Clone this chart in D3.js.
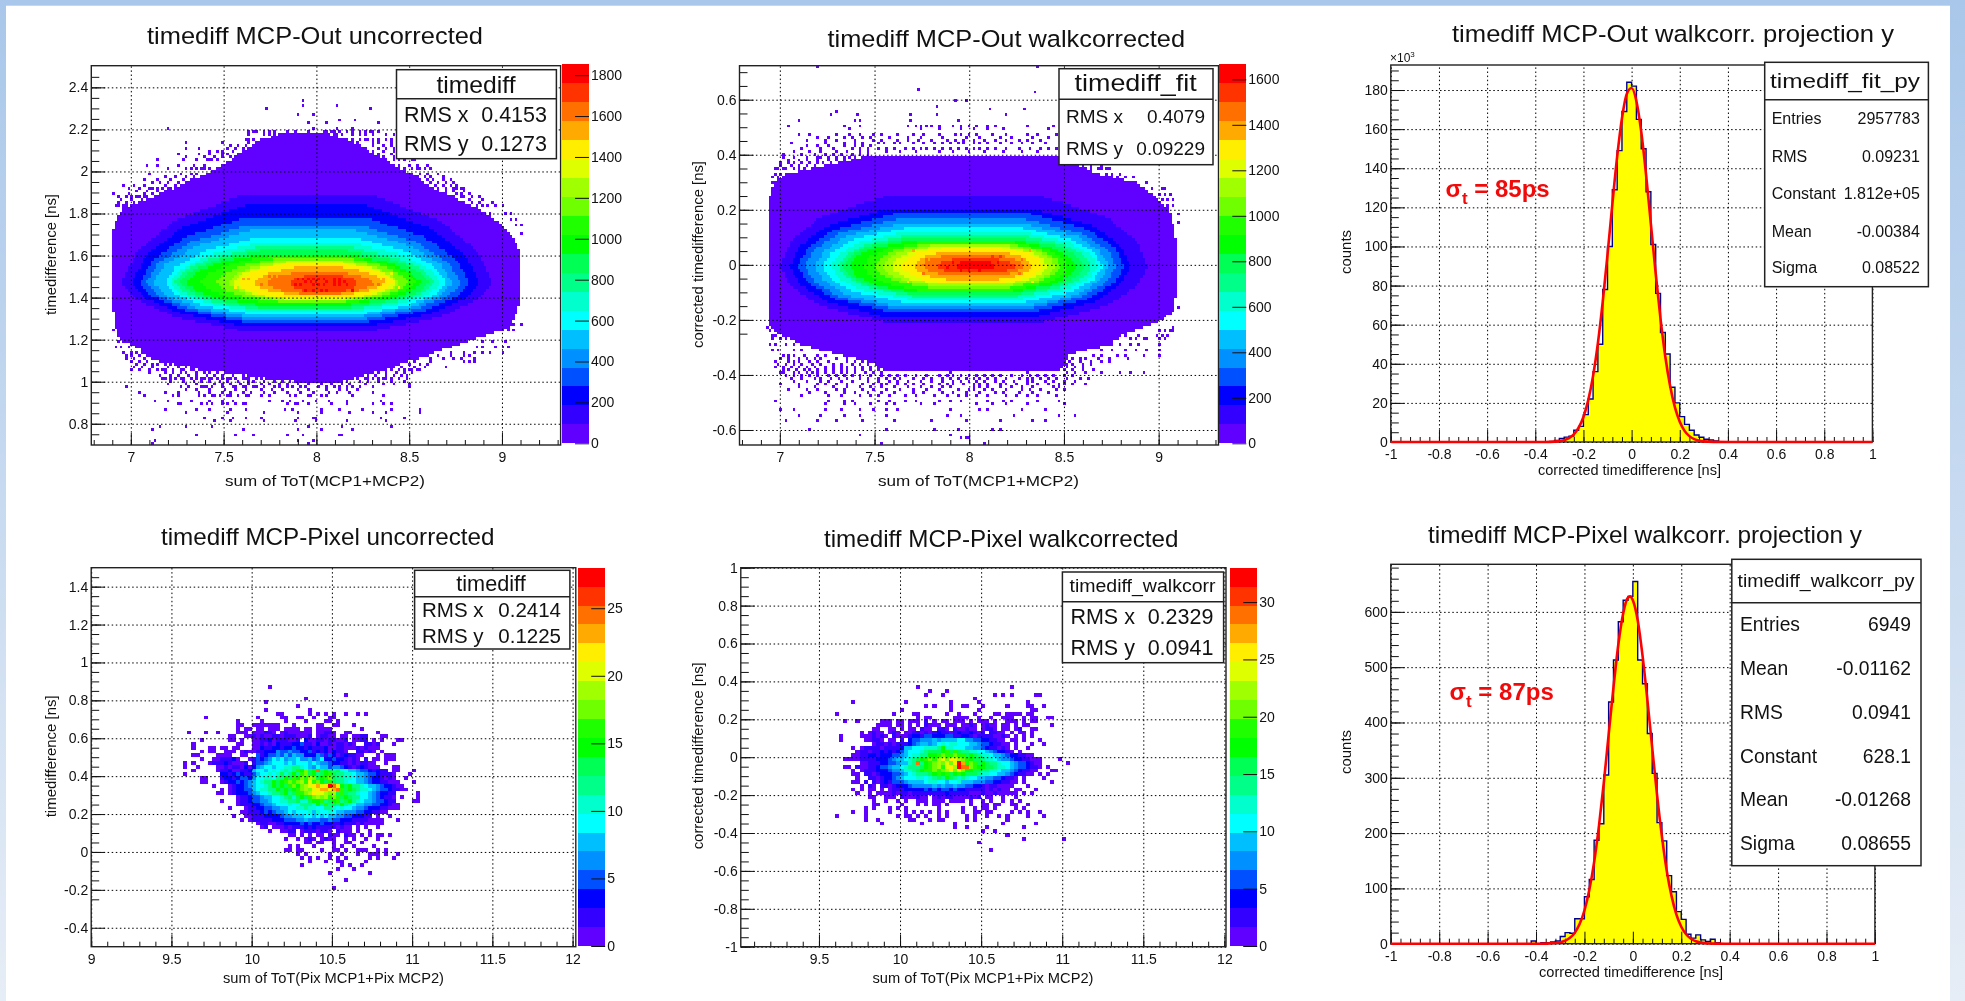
<!DOCTYPE html>
<html>
<head>
<meta charset="utf-8">
<script src="https://cdnjs.cloudflare.com/ajax/libs/d3/7.8.5/d3.min.js"></script>
<style>
html, body { margin: 0; padding: 0; background: #fff; overflow: hidden; }
svg { display: block; filter: blur(0.4px); }
text { font-family: "Liberation Sans", Arial, sans-serif; fill: #111; }
</style>
</head>
<body>
<script>
// colour bands of the palette, bottom to top
var bandColors = ["#6000ff","#3300ff","#0000ff","#0050ff","#0090ff","#00bfff","#00ffff","#00ffcc","#00ff88","#00ff55",
    "#00ff00","#20ff00","#70ff00","#a0ff00","#ddff00","#ffee00","#ffaa00","#ff7000","#ff3300","#ff0000"];

// ---- top left: outer edge as [y, xLeft, xRight]
var p1Edge = [[2.18,7.8,8.05],[2.14,7.68,8.2],[2.05,7.53,8.38],[1.97,7.36,8.54],[1.9,7.18,8.68],[1.83,6.96,8.86],[1.75,6.91,9.0],[1.68,6.9,9.07],[1.6,6.9,9.1],
    [1.4,6.9,9.1],[1.3,6.91,9.07],[1.25,6.92,9.03],[1.2,6.95,8.84],[1.15,7.05,8.68],[1.1,7.14,8.5],[1.05,7.43,8.34],[1.0,7.91,8.14]];
// contour of each colour band, band 1 upwards
var p1Levels = [
    [[1.89,7.6,8.3],[1.764,7.23,8.67],[1.617,7.03,8.87],[1.47,6.95,8.95],[1.39,7.03,8.87],[1.309,7.23,8.67],[1.24,7.6,8.3]],
    [[1.84,7.61,8.27],[1.729,7.27,8.62],[1.6,7.08,8.805],[1.47,7.004,8.88],[1.397,7.08,8.805],[1.324,7.27,8.62],[1.262,7.61,8.27]],
    [[1.785,7.63,8.25],[1.69,7.3,8.58],[1.58,7.12,8.755],[1.47,7.048,8.826],[1.404,7.12,8.755],[1.337,7.3,8.58],[1.28,7.63,8.25]],
    [[1.745,7.635,8.23],[1.663,7.32,8.54],[1.566,7.15,8.71],[1.47,7.084,8.78],[1.408,7.15,8.71],[1.346,7.32,8.54],[1.293,7.635,8.23]],
    [[1.72,7.645,8.21],[1.645,7.35,8.51],[1.558,7.185,8.67],[1.47,7.12,8.736],[1.412,7.185,8.67],[1.354,7.35,8.51],[1.305,7.645,8.21]],
    [[1.685,7.675,8.205],[1.62,7.39,8.49],[1.545,7.24,8.64],[1.47,7.183,8.7],[1.416,7.24,8.64],[1.363,7.39,8.49],[1.317,7.675,8.205]],
    [[1.66,7.685,8.195],[1.603,7.41,8.47],[1.536,7.27,8.61],[1.47,7.21,8.673],[1.421,7.27,8.61],[1.372,7.41,8.47],[1.33,7.685,8.195]],
    [[1.64,7.69,8.18],[1.589,7.43,8.44],[1.53,7.29,8.58],[1.47,7.237,8.637],[1.425,7.29,8.58],[1.38,7.43,8.44],[1.342,7.69,8.18]],
    [[1.625,7.7,8.17],[1.578,7.45,8.42],[1.524,7.32,8.556],[1.47,7.264,8.61],[1.429,7.32,8.556],[1.387,7.45,8.42],[1.352,7.7,8.17]],
    [[1.61,7.71,8.15],[1.568,7.475,8.39],[1.519,7.35,8.51],[1.47,7.3,8.565],[1.432,7.35,8.51],[1.394,7.475,8.39],[1.362,7.71,8.15]],
    [[1.6,7.75,8.16],[1.561,7.535,8.375],[1.515,7.42,8.49],[1.47,7.372,8.539],[1.436,7.42,8.49],[1.401,7.535,8.375],[1.372,7.75,8.16]],
    [[1.59,7.8,8.16],[1.554,7.605,8.35],[1.512,7.5,8.45],[1.47,7.461,8.494],[1.438,7.5,8.45],[1.407,7.605,8.35],[1.38,7.8,8.16]],
    [[1.58,7.82,8.15],[1.547,7.65,8.32],[1.508,7.56,8.41],[1.47,7.524,8.449],[1.441,7.56,8.41],[1.411,7.65,8.32],[1.386,7.82,8.15]],
    [[1.57,7.84,8.145],[1.54,7.675,8.31],[1.505,7.585,8.4],[1.47,7.551,8.431],[1.443,7.585,8.4],[1.415,7.675,8.31],[1.392,7.84,8.145]],
    [[1.563,7.85,8.14],[1.535,7.695,8.295],[1.503,7.61,8.38],[1.47,7.578,8.413],[1.444,7.61,8.38],[1.419,7.695,8.295],[1.397,7.85,8.14]],
    [[1.544,7.89,8.14],[1.522,7.76,8.27],[1.496,7.69,8.34],[1.47,7.659,8.368],[1.45,7.69,8.34],[1.43,7.76,8.27],[1.413,7.89,8.14]],
    [[1.524,7.92,8.12],[1.508,7.81,8.225],[1.489,7.754,8.28],[1.47,7.731,8.305],[1.4525,7.754,8.28],[1.435,7.81,8.225],[1.42,7.92,8.12]],
    [[1.508,7.976,8.104],[1.497,7.908,8.172],[1.483,7.87,8.21],[1.47,7.856,8.224],[1.454,7.87,8.21],[1.4385,7.908,8.172],[1.425,7.976,8.104]]
];
// single cells outside the solid area: [y, x, x, ...]
var p1Strays = [[2.335,7.925],[2.31,7.925,8.105],[2.295,7.73,8.29],[2.276,7.9,7.985],[2.25,8.13,8.205],[2.237,7.95,8.33],[2.225,7.96,8.055,8.33],[2.21,7.2,7.985,8.11,8.2],
    [2.195,7.635,7.66,7.725,7.75,7.84,7.885,7.96,8.04,8.06,8.09,8.13,8.19,8.235,8.29,8.33],
    [2.185,7.64,7.68,7.72,7.78,8.08,8.12,8.16,8.2,8.26,8.31],
    [2.175,7.635,7.725,7.75,7.77,8.07,8.09,8.11,8.145,8.19,8.235,8.27,8.31,8.37,8.42],
    [2.155,7.64,7.73,7.75,7.79,7.82,8.06,8.1,8.14,8.17,8.2,8.27,8.3,8.37],
    [2.145,7.62,7.66,7.7,7.74,7.78,8.1,8.16,8.24,8.28,8.34,8.4],
    [2.13,7.305,7.5,7.64,7.67,7.73,7.77,8.08,8.11,8.14,8.18,8.22,8.3,8.33,8.4,8.44],
    [2.12,7.54,7.58,7.62,7.66,7.7,8.12,8.18,8.24,8.3,8.36,8.4],
    [2.11,7.305,7.37,7.52,7.56,7.6,7.68,7.72,8.14,8.2,8.26,8.33,8.38,8.42,8.5],
    [2.095,7.42,7.46,7.5,7.55,7.6,8.3,8.36,8.42,8.47],
    [2.085,7.26,7.37,7.43,7.49,7.52,7.58,7.62,8.34,8.4,8.46,8.5],
    [2.07,7.3,7.4,7.45,7.5,7.53,8.36,8.42,8.5],
    [2.06,7.15,7.28,7.43,7.47,7.55,8.38,8.44,8.48,8.52],
    [2.05,7.36,7.41,7.44,7.47,8.42,8.47,8.53],
    [2.035,7.09,7.145,7.26,7.34,7.4,8.45,8.5,8.54,8.6],
    [2.02,7.2,7.3,7.38,7.42,8.47,8.54,8.58],
    [2.01,7.32,7.36,7.4,8.48,8.52,8.56,8.62],
    [1.99,7.1,7.27,7.32,7.36,8.52,8.56,8.6,8.66],
    [1.98,7.18,7.24,7.3,7.34,7.4,8.55,8.58,8.62,8.68],
    [1.96,7.08,7.14,7.215,7.28,7.33,8.56,8.6,8.63,8.68,8.72],
    [1.945,7.12,7.16,7.2,7.26,7.3,8.62,8.66,8.7,8.74],
    [1.935,6.955,7.02,7.07,7.18,7.24,7.29,8.6,8.64,8.68,8.72,8.76],
    [1.925,7.05,7.1,7.14,7.2,7.24,8.65,8.7,8.76,8.8],
    [1.915,6.99,7.05,7.12,7.17,7.22,8.66,8.7,8.74,8.78],
    [1.905,7.03,7.09,7.14,7.19,8.7,8.74,8.8],
    [1.895,6.91,6.99,7.07,7.12,7.16,8.7,8.75,8.78,8.82],
    [1.885,6.97,7.03,7.08,7.14,8.72,8.78,8.84,8.88],
    [1.875,6.94,7.0,7.04,7.09,8.74,8.8,8.84],
    [1.865,6.95,7.0,7.06,7.11,8.76,8.82,8.9],
    [1.855,6.93,6.97,7.02,7.19,8.8,8.84,8.88,8.95],
    [1.845,6.94,6.98,7.04,8.82,8.87,8.92],
    [1.835,6.92,6.96,7.0,8.86,8.9,8.97,9.0],
    [1.8,8.94,9.02,9.05],[1.77,9.05,9.08],[1.74,9.07,9.1],[1.7,9.1],[1.27,9.06,9.1],[1.24,6.9,9.04,9.06],
    [1.215,6.93,7.02],[1.19,6.94,6.96,6.99,7.03,8.9,8.95,9.02],
    [1.167,6.92,6.95,6.99,7.1,7.17,8.86,8.9,8.96,9.0,9.04],
    [1.135,6.96,7.0,7.03,7.06,7.1,7.13,7.15,7.25,8.39,8.72,8.79,8.85,8.9,8.94,9.0],
    [1.12,6.97,7.0,7.05,7.09,7.14,7.18,7.22,7.27,8.54,8.6,8.66,8.72,8.8,8.83],
    [1.11,6.98,7.02,7.07,7.12,7.16,7.2,7.24,7.3,8.5,8.55,8.62,8.68,8.74,8.78,8.85],
    [1.095,7.0,7.04,7.09,7.16,7.2,7.24,7.28,7.33,7.38,8.2,8.27,8.3,8.36,8.41,8.47,8.53,8.62,8.79,8.82,8.85],
    [1.083,7.03,7.07,7.11,7.15,7.19,7.22,7.27,7.31,7.35,7.39,7.44,8.22,8.26,8.32,8.38,8.44,8.5,8.56,8.6],
    [1.07,7.02,7.06,7.12,7.2,7.25,7.3,7.36,7.4,7.46,7.55,7.62,8.23,8.29,8.34,8.42,8.46,8.53,8.58,8.7],
    [1.06,7.04,7.1,7.15,7.19,7.23,7.27,7.33,7.38,7.42,7.48,7.52,7.58,7.66,8.21,8.26,8.32,8.38,8.4,8.44,8.5,8.55],
    [1.05,7.0,7.05,7.17,7.23,7.28,7.34,7.37,7.42,7.48,7.53,7.6,7.68,7.72,8.19,8.24,8.3,8.36,8.44,8.48,8.52,8.56],
    [1.04,7.1,7.18,7.23,7.27,7.3,7.35,7.39,7.43,7.47,7.51,7.57,7.62,7.67,7.7,7.74,8.18,8.22,8.26,8.34,8.38,8.43,8.47,8.52],
    [1.03,7.16,7.21,7.25,7.31,7.36,7.41,7.45,7.5,7.55,7.6,7.65,7.71,7.76,7.79,8.17,8.2,8.24,8.28,8.32,8.37,8.42,8.46,8.49],
    [1.02,7.19,7.24,7.29,7.35,7.4,7.44,7.49,7.52,7.56,7.6,7.64,7.7,7.75,7.78,7.83,7.88,8.16,8.2,8.22,8.28,8.33,8.38,8.44],
    [1.01,7.17,7.22,7.27,7.33,7.38,7.42,7.47,7.53,7.57,7.62,7.68,7.73,7.76,7.8,7.85,7.9,8.14,8.2,8.26,8.3,8.36,8.4,8.49],
    [1.0,7.22,7.28,7.34,7.38,7.43,7.48,7.52,7.58,7.63,7.66,7.72,7.77,7.82,7.86,8.16,8.23,8.28,8.34,8.4,8.47],
    [0.99,7.2,7.3,7.36,7.45,7.49,7.53,7.59,7.64,7.7,7.74,7.8,7.85,7.9,7.95,8.03,8.08,8.14,8.18,8.27,8.36,8.42,8.5],
    [0.98,7.31,7.39,7.44,7.5,7.56,7.62,7.67,7.72,7.8,7.87,7.94,8.01,8.06,8.1,8.16,8.24,8.31],
    [0.97,6.98,7.27,7.38,7.41,7.5,7.55,7.6,7.66,7.72,7.78,7.84,7.92,8.05,8.09,8.12,8.2,8.3,8.5],
    [0.96,7.3,7.36,7.42,7.51,7.56,7.62,7.7,7.76,7.82,7.9,7.96,8.06,8.12,8.16,8.22],
    [0.95,7.05,7.18,7.25,7.37,7.42,7.49,7.54,7.6,7.65,7.72,7.78,7.85,7.92,7.98,8.07,8.11,8.18,8.3],
    [0.94,7.23,7.39,7.45,7.48,7.54,7.64,7.74,7.86,7.95,8.05,8.19],
    [0.93,7.08,7.25,7.37,7.44,7.52,7.58,7.62,7.7,7.88,7.97,8.03,8.2,8.36],
    [0.91,7.13,7.2,7.32,7.42,7.5,7.55,7.74,7.82,7.86,7.93,8.0,8.07,8.16,8.35],
    [0.9,7.26,7.44,7.52,7.6,7.84,7.88,7.95,8.08,8.3],
    [0.89,7.27,7.38,7.41,7.5,7.56,7.62,7.84,7.9,7.96,8.17,8.36,8.4],
    [0.87,7.18,7.36,7.43,7.53,7.62,7.83,7.87,8.02,8.12,8.25,8.41,8.56],
    [0.85,7.3,7.52,7.72,7.9,8.03,8.18,8.31,8.38,8.56],
    [0.83,7.4,7.5,7.55,7.62,7.7,7.9,7.98,8.0,8.35,8.47],
    [0.81,7.45,7.53,7.72,7.88,8.0,8.17,8.38],
    [0.79,7.16,7.3,7.44,7.96,8.14,8.4],[0.77,7.12,7.6,7.9,8.02,8.2],[0.74,7.35,7.56,7.66,7.84,7.93,8.12,8.14],[0.72,7.13,7.9,7.98],[0.71,7.12,7.96]];
// speckle in the core: [band, y, x, x, ...]
var p1Spots = [[19,1.49,7.9,7.93,7.96,7.98,8.01,8.04,8.09,8.12],[19,1.475,7.94,7.97,8.0,8.06,8.09,8.12,8.15],[19,1.455,7.88,7.92,7.98,8.01,8.04,8.1,8.13,8.17],[19,1.44,7.94,7.98,8.02,8.05,8.19],
    [17,1.5,7.74,7.78,8.24],[17,1.46,7.7,7.76,8.3,8.34],[16,1.49,7.6,7.64,8.36],[15,1.45,7.56,8.44],[14,1.52,7.6,8.36,8.4]];

// ---- top middle
var p2Edge = [[0.4,7.5,8.5],[0.37,7.3,8.55],[0.33,7.03,8.68],[0.3,6.97,8.88],[0.26,6.95,8.96],[0.2,6.94,9.06],[0.1,6.94,9.09],[-0.1,6.94,9.095],[-0.174,6.94,9.075],
    [-0.21,6.94,8.99],[-0.247,6.98,8.83],[-0.29,7.12,8.74],[-0.326,7.31,8.53],[-0.356,7.49,8.51],[-0.385,7.55,8.48]];
var p2Levels = [
    [[0.25,7.56,8.38],[0.1735,7.21,8.73],[0.084,7.056,8.886],[-0.005,6.998,8.944],[-0.077,7.056,8.886],[-0.1485,7.21,8.73],[-0.21,7.56,8.38]],
    [[0.205,7.57,8.33],[0.142,7.25,8.66],[0.0685,7.104,8.8],[-0.005,7.05,8.855],[-0.07,7.104,8.8],[-0.136,7.25,8.66],[-0.192,7.57,8.33]],
    [[0.185,7.6,8.32],[0.128,7.285,8.63],[0.0615,7.147,8.77],[-0.005,7.095,8.82],[-0.064,7.147,8.77],[-0.123,7.285,8.63],[-0.174,7.6,8.32]],
    [[0.165,7.61,8.3],[0.114,7.31,8.595],[0.0545,7.18,8.73],[-0.005,7.13,8.776],[-0.06,7.18,8.73],[-0.115,7.31,8.595],[-0.162,7.61,8.3]],
    [[0.15,7.63,8.29],[0.1035,7.35,8.57],[0.049,7.23,8.69],[-0.005,7.185,8.74],[-0.057,7.23,8.69],[-0.109,7.35,8.57],[-0.153,7.63,8.29]],
    [[0.135,7.66,8.28],[0.093,7.39,8.54],[0.044,7.27,8.66],[-0.005,7.227,8.706],[-0.0515,7.27,8.66],[-0.098,7.39,8.54],[-0.138,7.66,8.28]],
    [[0.122,7.68,8.27],[0.084,7.425,8.525],[0.039,7.31,8.64],[-0.005,7.27,8.68],[-0.047,7.31,8.64],[-0.0897,7.425,8.525],[-0.126,7.68,8.27]],
    [[0.11,7.695,8.257],[0.0755,7.454,8.498],[0.035,7.347,8.605],[-0.005,7.307,8.645],[-0.043,7.347,8.605],[-0.081,7.454,8.498],[-0.114,7.695,8.257]],
    [[0.1,7.7,8.24],[0.0685,7.47,8.47],[0.032,7.37,8.57],[-0.005,7.333,8.61],[-0.041,7.37,8.57],[-0.077,7.47,8.47],[-0.108,7.7,8.24]],
    [[0.092,7.715,8.22],[0.063,7.5,8.435],[0.029,7.4,8.53],[-0.005,7.368,8.565],[-0.039,7.4,8.53],[-0.073,7.5,8.435],[-0.102,7.715,8.22]],
    [[0.086,7.75,8.21],[0.059,7.56,8.4],[0.027,7.47,8.49],[-0.005,7.44,8.52],[-0.037,7.47,8.49],[-0.069,7.56,8.4],[-0.096,7.75,8.21]],
    [[0.08,7.786,8.2],[0.0545,7.61,8.38],[0.025,7.53,8.456],[-0.005,7.5,8.486],[-0.033,7.53,8.456],[-0.06,7.61,8.38],[-0.084,7.786,8.2]],
    [[0.074,7.81,8.194],[0.05,7.645,8.36],[0.023,7.57,8.43],[-0.005,7.544,8.46],[-0.03,7.57,8.43],[-0.055,7.645,8.36],[-0.077,7.81,8.194]],
    [[0.068,7.83,8.176],[0.046,7.68,8.325],[0.0205,7.613,8.39],[-0.005,7.588,8.416],[-0.028,7.613,8.39],[-0.051,7.68,8.325],[-0.071,7.83,8.176]],
    [[0.062,7.857,8.173],[0.042,7.72,8.31],[0.018,7.662,8.368],[-0.005,7.64,8.39],[-0.026,7.662,8.368],[-0.047,7.72,8.31],[-0.065,7.857,8.173]],
    [[0.05,7.89,8.15],[0.0335,7.78,8.26],[0.014,7.73,8.31],[-0.005,7.71,8.328],[-0.022,7.73,8.31],[-0.039,7.78,8.26],[-0.053,7.89,8.15]],
    [[0.0375,7.91,8.136],[0.025,7.814,8.232],[0.01,7.77,8.275],[-0.005,7.755,8.292],[-0.017,7.77,8.275],[-0.0295,7.814,8.232],[-0.04,7.91,8.136]],
    [[0.025,7.95,8.126],[0.016,7.87,8.2],[0.0055,7.84,8.235],[-0.005,7.826,8.248],[-0.0135,7.84,8.235],[-0.022,7.87,8.2],[-0.029,7.95,8.126]],
    [[0.018,7.99,8.07],[0.011,7.95,8.11],[0.003,7.936,8.124],[-0.005,7.93,8.125],[-0.01,7.936,8.124],[-0.0155,7.95,8.11],[-0.02,7.99,8.07]]
];
var p2Strays = [[0.719,7.2,8.367],[0.638,7.73],[0.623,8.35],[0.6,7.93,7.99],[0.575,7.83],[0.571,8.115,8.29],[0.556,7.3],[0.544,7.27,7.41,7.69,7.83,8.2],[0.53,7.1,7.39,7.42],[0.52,7.69,7.94],
    [0.507,7.04,7.68,7.74,7.78,7.85,7.95,8.04,8.1,8.3,8.45],[0.5,7.34,7.42,7.72,7.8,7.92,8.0,8.14,8.44],[0.49,7.37,7.74,7.85,7.96,8.02,8.1,8.18,8.42,8.5],
    [0.475,7.1,7.16,7.3,7.37,7.42,7.5,7.53,7.62,7.71,7.76,7.84,7.93,7.96,8.0,8.04,8.12,8.2,8.3,8.36,8.46,8.52,8.56],
    [0.465,7.2,7.26,7.34,7.38,7.44,7.48,7.58,7.68,7.74,7.86,7.99,8.06,8.16,8.22,8.34,8.42],
    [0.455,7.15,7.24,7.3,7.4,7.5,7.54,7.62,7.68,7.73,7.8,7.88,7.93,7.97,8.03,8.08,8.14,8.2,8.26,8.31,8.38,8.5],
    [0.44,7.06,7.24,7.34,7.39,7.44,7.52,7.55,7.6,7.64,7.7,7.76,7.82,7.86,7.9,7.94,7.97,8.02,8.06,8.1,8.16,8.22,8.28,8.34,8.4],
    [0.43,7.14,7.2,7.26,7.34,7.4,7.44,7.48],
    [0.42,7.11,7.22,7.28,7.38,7.43,7.47,7.52,7.56,7.6,7.66,7.7,7.74,7.78,7.82,7.86,7.9,7.94,7.98,8.02,8.06,8.1,8.14,8.2,8.26,8.32,8.38,8.42,8.46],
    [0.41,7.08,7.16,7.22,7.3,7.36,7.42,7.46,7.56,7.64,7.72,7.84,7.92,8.0,8.08,8.18,8.28,8.36],
    [0.4,7.02,7.12,7.18,7.24,7.28,7.32,7.38,7.43,7.47],[0.39,7.02,7.08,7.14,7.2,7.22,7.26,7.3,7.34,7.37,7.4,7.44,7.47],[0.38,7.04,7.1,7.14,7.2,7.25,7.3,7.34,7.4,7.44],
    [0.37,7.0,7.04,7.08,7.12,7.16,7.2,7.23,7.27,8.54,8.6],
    [0.36,7.0,7.06,7.1,7.14,7.19,8.53,8.6,8.64,8.7],
    [0.35,6.99,7.03,7.07,7.1,7.13,8.6,8.64,8.68,8.72],
    [0.345,6.98,7.02,7.08,8.62,8.7,8.74],[0.33,6.97,7.0,8.72,8.76,8.8],[0.315,6.96,6.99,8.78,8.82,8.86],[0.3,6.96,8.84,8.88,8.94],[0.28,8.92,8.97,9.02,9.04],
    [0.26,9.0,9.04,9.06],[0.24,9.02,9.05,9.07],[0.22,9.05,9.08],[0.18,9.1],[0.15,9.1],[-0.15,9.1],
    [-0.223,6.94,9.08],[-0.235,6.95,6.97,9.0,9.03,9.06,9.08],
    [-0.253,6.955,6.98,7.02,8.83,8.89,8.99,9.02,9.05],
    [-0.271,6.96,7.0,7.03,7.09,7.14,8.85,8.88,8.92,8.94,9.0,9.03],
    [-0.289,6.95,6.97,7.03,7.07,7.11,8.58,8.63,8.67,8.76,8.8,8.85,8.89,9.0],
    [-0.307,6.96,6.99,7.07,7.11,7.22,8.7,8.76,8.82,8.88,8.94,9.01],
    [-0.332,7.02,7.05,7.08,7.13,7.2,7.24,7.34,7.37,7.44,8.44,8.49,8.66,8.7,8.78,8.82,8.92,9.0],
    [-0.34,7.0,7.04,7.1,7.14,7.18,7.22,7.3,7.36,8.54,8.58,8.62,8.68,8.74,8.84],
    [-0.35,6.97,7.04,7.07,7.1,7.16,7.2,7.26,7.36,7.4,7.44,7.5,8.5,8.53,8.58,8.64,8.7,8.74],
    [-0.36,6.99,7.03,7.08,7.12,7.17,7.22,7.28,7.32,7.38,7.42,7.46,8.52,8.55,8.6,8.64],
    [-0.368,6.98,7.02,7.06,7.1,7.14,7.18,7.24,7.28,7.32,7.36,7.4,7.44,7.48,8.52,8.56,8.6],
    [-0.38,7.02,7.05,7.09,7.13,7.16,7.2,7.24,7.28,7.32,7.36,7.4,7.44,7.48,7.52,8.5,8.54,8.6,8.66],
    [-0.392,7.0,7.02,7.07,7.1,7.14,7.17,7.2,7.24,7.28,7.32,7.36,7.4,7.45,7.5,7.54,7.9,8.3,8.52,8.56,8.62,8.7,8.8,8.85,8.92],
    [-0.40,7.03,7.08,7.12,7.16,7.2,7.25,7.3,7.34,7.38,7.42,7.48,7.54,7.58,7.62,7.66,7.72,7.78,7.84,7.88,7.92,7.96,8.0,8.04,8.08,8.12,8.16,8.22,8.28,8.32,8.36,8.4,8.44,8.5,8.54],
    [-0.41,7.06,7.12,7.18,7.22,7.27,7.31,7.36,7.42,7.47,7.52,7.56,7.6,7.64,7.7,7.76,7.8,7.86,7.9,7.94,7.98,8.02,8.06,8.1,8.14,8.2,8.26,8.3,8.34,8.38,8.42,8.46,8.52,8.58,8.63],
    [-0.42,7.08,7.14,7.22,7.26,7.33,7.38,7.46,7.52,7.58,7.62,7.68,7.74,7.8,7.86,7.92,7.96,8.0,8.04,8.08,8.14,8.18,8.24,8.3,8.34,8.4,8.44,8.5,8.56],
    [-0.43,7.0,7.1,7.2,7.24,7.3,7.36,7.44,7.5,7.53,7.56,7.62,7.66,7.7,7.76,7.84,7.88,7.92,7.97,8.02,8.06,8.1,8.16,8.2,8.25,8.3,8.36,8.42,8.47,8.5,8.55,8.62],
    [-0.44,7.1,7.18,7.28,7.36,7.42,7.48,7.54,7.6,7.68,7.74,7.8,7.86,7.9,8.02,8.06,8.1,8.16,8.22,8.28,8.34,8.44,8.48],
    [-0.45,7.04,7.14,7.2,7.3,7.34,7.44,7.5,7.56,7.64,7.7,7.78,7.84,7.94,8.0,8.03,8.08,8.12,8.2,8.28,8.32,8.38,8.46,8.5],
    [-0.46,7.16,7.24,7.34,7.4,7.46,7.54,7.6,7.7,7.76,7.86,7.92,7.98,8.06,8.14,8.18,8.26,8.34,8.42],
    [-0.47,7.12,7.26,7.32,7.42,7.48,7.52,7.58,7.66,7.72,7.82,7.88,7.94,7.99,8.04,8.1,8.2,8.25,8.3,8.36,8.46],
    [-0.49,6.97,7.26,7.34,7.38,7.52,7.58,7.66,7.72,7.84,7.9,7.96,8.1,8.18,8.22,8.36,8.48],
    [-0.51,7.24,7.34,7.4,7.48,7.56,7.6,7.74,7.82,8.04,8.12,8.2,8.3,8.5],
    [-0.53,7.0,7.08,7.24,7.33,7.42,7.5,7.56,7.62,7.9,8.05,8.1,8.28,8.4],
    [-0.55,7.1,7.22,7.34,7.42,7.56,7.88,7.96,8.24,8.48,8.56],
    [-0.57,7.03,7.2,7.3,7.44,7.6,7.8,7.98,8.16,8.33,8.4],
    [-0.6,7.16,7.56,7.82,7.94,8.12,8.16],[-0.62,7.42,7.9],[-0.63,7.96,7.98,8.0],[-0.645,7.54,8.08]];
var p2Spots = [[19,0.005,7.92,7.97,8.05,8.1,8.15],[19,-0.01,7.88,7.95,8.0,8.1,8.13],[19,-0.025,7.96,8.0,8.06],[18,0.03,8.12,8.16],[17,-0.035,7.76,8.26],[17,0.02,7.78,7.8,8.28],[16,0.05,7.7,8.32],[15,-0.06,7.68,8.34]];

// ---- bottom left: cell bands as text rows, column 0 at 9.55, first row top at 0.88, '.' = empty
var p4Rows = [
    "......................0","",".........................................0","...............................0",".....................0",".............................0",
    ".....................0..........0","........................00......0.0.0.0..0..0.0","......0............0.....00..00..0...00","..............0.....0.....0....0....00.0",
    "..............00..0000000...0.....00..00...0","..............0.00.00.000.0000.00.0000.......0","..0...0..0....000.000110.01000000.00110..00......0",
    "............00..00101001101110001.01100.00.0011...00",".....0......00.0..001120111001.20011011001.0011.0.0...00","...0..........00..00101021112231102001011010..1101...0",
    "...0...00.00.00...00211221223221211120011000101000",".....0.00..000.010011222433433223121202110..11010.0","...00....0000..00..312334353544222431320121100...0.000",
    ".....0..0011120..0132346564556445346223221010.1.00.000",".0.0...0111210001.1334566656566656544322110101100..0",".0..0....00101102024566566778876546553443210121000...00",
    "...0.....01120011256656767878bac9ah9a989765543321211.00...0",".0........221232113566767978a8bc9a89ab9887765543321110...0",".....00...1221233246677688a9bacbdc9abc9887765543221010..0",
    ".....00...0122323456788a9abcbcdbebca9b98876655432211000...0","........0...01223456678a9a9bcacdefgefjhfa9a8876554322100","..........0.012233567788a9a9abcdcefggfghb9a98776543321100",
    ".........00.01222345667889a89bbcdfeedcd9b9887665432211.....0","..............0112334556678979a9bcdcdbcb9a988665432110.0...0","..........0...0112334456677889779aab89ab89a87655433211....00",
    "..............01112234456667668887a8b898a87655443322100","............0...011223344556677877668876766544322211000","...............0011123234456566675766765544433221100",
    ".............0..00111222234455566565655443322211.0..0","...............0.0111112223334454443343322211110000...0","...................01100112222323223221121110100000",
    "....................01.00010111212111110100.0.0..0","......................0..0011.01110110.1000.0..0","...........................00.0.0.00.100.100.0.0.00.0",
    "..........................0..0.010.0100..0.0..0..0","...............................00.00..0..00..0.....0","...........................0.0...0....0.0..0....0",
    "..........................00.00....0..00.0..000..0.0",".............................0.0.....0..0...0..000.0..0","..............................0.0.0..0.0.0.....0.0...0",
    "................................0...0..00.....0","..............................0.........0.0..0",".......................................0...0",".....................................0.........0","",
    ".........................................0","","......................................0"];
// ---- bottom middle: column 0 at 9.55, first row top at 0.38
var p5Rows = [
    "......................0......................0",".........................0...0","........................0...0............0.0.0.....00","....................................0",
    "......0............0..........0......0...........0","........................0.0...0..00...0.....0....00..0","..................0...........0......0............00",
    "..0.............0....00......0..0...0....00.0000.00","......................0.00.....0000..0..0..000..0.00..00","....0..0.....000.00.000.1.0.00.000.0.000.0..000.0.00",
    "............0000.00.0.0.1000.000.0010.0100.00.0.00.....0","...........00..00.0.00.100.110.100100.0110.00.01..00","........0.0100.010.00110101211012112101.1100.0.00.0",
    "...0....0001010.10001221332223311221011110010.0.0.0","...0.....00110.00.1.233444545555664433221100.00.0...0","...........0110101112345545676776665543321100.0...0..0",
    "......0.01111011112556667778a7766655443211010.0..0",".......011011212123566678999ab9b98877665432210.0","......0011221222334567788aabcbbcbb9a987765543221100","....0000111122234556789abcbdecfedcba99877654432211000....0",
    "........00111223345578h8abcdcecfjgbcb9a98876654332100......0","....00.10011233455678889abcdbefdjhhcbaa99877654332110.0","......0.011122234457789abbcbcdfcecaa9988776554321100...00",
    "......00.11012223345678889abab9aba99987766554321100.0.0",".......0..1101223456667767898a98787665544332110.0....0","......00.1.101213334555567766566755544433221100.0......0",
    "........0.10.110122234444454544544332210110000...0","......0.0.00.0.011122222323233232211111010100.00...0",".......0..0.00001011011111111211111000100100000.0.0",
    "..........00..000.1000100.010110000101.00..0..0","...........0..0..0.0..000.000.0000.0..0.0..0.0.0","...........00.....0...0.0.00.0.....0..00.00..00..0",".........0.0...0.0.0.......0.....0..0.00.0....0.0",
    "......0..0.....0...0.0.0.0.0.0...0..00.00....0.0.0..0","..0......0.......0.00.0.0..0.0....0.0..0..0.0....0...0",".........0..0.......00...0.00.....0.0.......0",".............0.........0.......0...........0.......0",
    "...............................0..0....0........0","......................................0..0","............................................0","................................................0.........0",
    ".....................................0","","........................................0"];

// ---- projections: left edge of bin, height of bin, then the fit curve read along it
var p3BinX = [-0.36,-0.34,-0.32,-0.30,-0.28,-0.26,-0.24,-0.22,-0.20,-0.18,-0.16,-0.14,-0.12,-0.10,-0.08,-0.06,-0.04,-0.02,0,0.02,0.04,0.06,0.08,0.10,0.12,0.14,0.16,0.18,0.20,0.22,0.24,0.26,0.28,0.30,0.32,0.34,0.36,0.38];
var p3BinY = [0.2,0.3,0.8,1.8,2.5,3,6,8,14,22,36,50,78,100,129,149,169,184,182,165,150,128,101,76,56,45,28,20,13,9,6,3.6,2.4,1.4,1,0.6,0.2,0];
var p3FitX = [-1,-0.4,-0.36,-0.32,-0.30,-0.28,-0.26,-0.24,-0.22,-0.20,-0.18,-0.16,-0.14,-0.12,-0.10,-0.08,-0.06,-0.04,-0.02,0,0.02,0.04,0.06,0.08,0.10,0.12,0.14,0.16,0.18,0.20,0.22,0.24,0.26,0.28,0.30,0.34,0.4,1];
var p3FitY = [0,0,0.03,0.19,0.43,0.95,1.97,3.9,7.3,12.8,21.4,33.8,50.5,71.6,95.9,121.6,145.9,165.6,178,181,174.3,158.7,136.8,111.6,86.3,63.1,43.6,28.6,17.7,10.4,5.7,3,1.5,0.7,0.3,0.05,0,0];

var p6BinX = [-0.44,-0.42,-0.40,-0.38,-0.36,-0.34,-0.32,-0.30,-0.28,-0.26,-0.24,-0.22,-0.20,-0.18,-0.16,-0.14,-0.12,-0.10,-0.08,-0.06,-0.04,-0.02,0,0.02,0.04,0.06,0.08,0.10,0.12,0.14,0.16,0.18,0.20,0.22,0.24,0.26,0.28,0.30,0.32,0.34,0.36];
var p6BinY = [0,5,0,2,2,3,5,13,20,19,45,45,85,116,187,217,305,437,513,582,621,628,655,513,470,380,308,219,186,123,94,58,44,17,10,16,7,4,8,2,0];
var p6FitX = [-1,-0.4,-0.36,-0.32,-0.30,-0.28,-0.26,-0.24,-0.22,-0.20,-0.18,-0.16,-0.14,-0.12,-0.10,-0.08,-0.06,-0.04,-0.02,-0.01,0,0.02,0.04,0.06,0.08,0.10,0.12,0.14,0.16,0.18,0.20,0.22,0.24,0.26,0.28,0.30,0.34,0.38,1];
var p6FitY = [0,0.03,0.2,1.2,2.5,5.3,10.6,20,35.7,60,97,147.5,213,291,378,464,541,597,626,628,621,585,521,441,354,269,194,132,86,52.7,30.7,17,8.9,4.4,2.1,0.9,0.16,0,0];

// tick labels
var xTicksTot = [7,7.5,8,8.5,9];
var xTicksPix = [9,9.5,10,10.5,11,11.5,12];
var xTicksPix5 = [9.5,10,10.5,11,11.5,12];
var xTicksProj = [-1,-0.8,-0.6,-0.4,-0.2,0,0.2,0.4,0.6,0.8,1];
var yTicksP1 = [0.8,1,1.2,1.4,1.6,1.8,2,2.2,2.4];
var yTicksP2 = [-0.6,-0.4,-0.2,0,0.2,0.4,0.6];
var yTicksP3 = [0,20,40,60,80,100,120,140,160,180];
var yTicksP4 = [-0.4,-0.2,0,0.2,0.4,0.6,0.8,1,1.2,1.4];
var yTicksP5 = [-1,-0.8,-0.6,-0.4,-0.2,0,0.2,0.4,0.6,0.8,1];
var yTicksP6 = [0,100,200,300,400,500,600];
var zTicksP1 = [0,200,400,600,800,1000,1200,1400,1600,1800];
var zTicksP2 = [0,200,400,600,800,1000,1200,1400,1600];
var zTicksP4 = [0,5,10,15,20,25];
var zTicksP5 = [0,5,10,15,20,25,30];

var svg = d3.select("body").append("svg").attr("width", 1965).attr("height", 1001);

// page background: blue slide behind a white sheet
var grad = svg.append("defs").append("linearGradient").attr("id", "slide")
    .attr("x1", 0).attr("y1", 0).attr("x2", 0).attr("y2", 1);
grad.append("stop").attr("offset", "0%").attr("stop-color", "#a9c7ea");
grad.append("stop").attr("offset", "100%").attr("stop-color", "#e6edf6");
svg.append("rect").attr("width", 1965).attr("height", 1001).attr("fill", "url(#slide)");
svg.append("rect").attr("x", 6).attr("y", 5.7).attr("width", 1944).attr("height", 996).attr("fill", "#fff");

// put a text, squeezed to the width
function putText(g, str, x, y, size, width, anchor) {
    var t = g.append("text").attr("x", x).attr("y", y).attr("font-size", size)
        .attr("text-anchor", anchor || "start").text(str);
    if (width) t.attr("textLength", width).attr("lengthAdjust", "spacingAndGlyphs");
    return t;
}
function putTextUp(g, str, x, yBottom, size, len) {
    g.append("text").attr("transform", "translate(" + x + "," + yBottom + ") rotate(-90)")
        .attr("font-size", size).attr("textLength", len).attr("lengthAdjust", "spacingAndGlyphs").text(str);
}

// grid, ticks and labels for one panel
function addGrid(g, x, y, xTicks, yTicks) {
    var gx = g.append("g").attr("transform", "translate(0," + y.range()[0] + ")")
        .call(d3.axisBottom(x).tickValues(xTicks).tickSize(y.range()[1] - y.range()[0]).tickSizeOuter(0).tickFormat(""));
    var gy = g.append("g").attr("transform", "translate(" + x.range()[0] + ",0)")
        .call(d3.axisLeft(y).tickValues(yTicks).tickSize(x.range()[0] - x.range()[1]).tickSizeOuter(0).tickFormat(""));
    [gx, gy].forEach(function (a) {
        a.select(".domain").remove();
        a.selectAll("line").attr("stroke", "#000").attr("stroke-width", 1).attr("stroke-dasharray", "1.5,2.6");
    });
}
function addAxes(g, x, y, xTicks, yTicks, xMinor, yMinor) {
    function dress(a) {
        a.select(".domain").remove();
        a.selectAll("line").attr("stroke", "#111").attr("stroke-width", 1);
        a.selectAll("text").attr("font-size", 14).attr("fill", "#222");
    }
    var bottom = y.range()[0], left = x.range()[0];
    g.append("g").attr("transform", "translate(0," + bottom + ")")
        .call(d3.axisBottom(x).tickValues(xMinor).tickSize(-5).tickSizeOuter(0).tickFormat("")).call(dress);
    g.append("g").attr("transform", "translate(" + left + ",0)")
        .call(d3.axisLeft(y).tickValues(yMinor).tickSize(-8).tickSizeOuter(0).tickFormat("")).call(dress);
    g.append("g").attr("transform", "translate(0," + bottom + ")")
        .call(d3.axisBottom(x).tickValues(xTicks).tickSize(-12).tickSizeOuter(0).tickPadding(7).tickFormat(function (d) { return d; })).call(dress);
    g.append("g").attr("transform", "translate(" + left + ",0)")
        .call(d3.axisLeft(y).tickValues(yTicks).tickSize(-14).tickSizeOuter(0).tickPadding(3).tickFormat(function (d) { return d; })).call(dress);
    g.append("rect").attr("x", left).attr("y", y.range()[1])
        .attr("width", x.range()[1] - left).attr("height", bottom - y.range()[1])
        .attr("fill", "none").attr("stroke", "#222").attr("stroke-width", 1.4);
}

// palette bar on the right of a 2D panel
function addPalette(g, x0, x1, top, bottom, zMax, zTicks) {
    var z = d3.scaleLinear().domain([0, zMax]).range([bottom, top]);
    var step = zMax / bandColors.length;
    g.selectAll(null).data(bandColors).enter().append("rect")
        .attr("x", x0).attr("width", x1 - x0)
        .attr("y", function (d, i) { return z((i + 1) * step); })
        .attr("height", function (d, i) { return z(i * step) - z((i + 1) * step); })
        .attr("fill", function (d) { return d; })
        .attr("shape-rendering", "crispEdges");
    var a = g.append("g").attr("transform", "translate(" + x1 + ",0)")
        .call(d3.axisRight(z).tickValues(zTicks).tickSize(-14).tickSizeOuter(0).tickPadding(2).tickFormat(d3.format("d")));
    a.select(".domain").remove();
    a.selectAll("line").attr("stroke", "#111");
    a.selectAll("text").attr("font-size", 14).attr("fill", "#222");
}

// stat box: header line plus left/right rows
function addStats(g, box, header, rows) {
    g.append("rect").attr("x", box.x0).attr("y", box.y0).attr("width", box.x1 - box.x0).attr("height", box.y1 - box.y0)
        .attr("fill", "#fff").attr("stroke", "#222").attr("stroke-width", 1.5);
    g.append("line").attr("x1", box.x0).attr("x2", box.x1).attr("y1", box.line).attr("y2", box.line)
        .attr("stroke", "#222").attr("stroke-width", 1.5);
    putText(g, header, box.hx, box.hy, box.hsize, box.hw, "middle");
    rows.forEach(function (r, i) {
        putText(g, r[0], box.left, box.ys[i], box.size);
        putText(g, r[1], box.right, box.ys[i], box.size, null, "end");
    });
}

// solid area: fill a cell grid from the band contours, merge runs into rects
function drawContours(g, x, y, edge, levels, strays, spots, binW, binH) {
    function toPoly(rows) {
        var p = rows.map(function (r) { return [r[1], r[0]]; });
        rows.slice().reverse().forEach(function (r) { p.push([r[2], r[0]]); });
        return p;
    }
    var polys = [toPoly(edge)].concat(levels.map(toPoly));
    var xd = x.domain(), yd = y.domain();
    var cols = Math.ceil((xd[1] - xd[0]) / binW), rows = Math.ceil((yd[1] - yd[0]) / binH);
    var cells = [];
    function addCell(band, col, row, n) {
        cells.push({ band: band, x0: xd[0] + col * binW, x1: xd[0] + (col + n) * binW, y0: yd[0] + row * binH, y1: yd[0] + (row + 1) * binH });
    }
    function snapX(v) { return Math.floor((v - xd[0]) / binW); }
    function snapY(v) { return Math.floor((v - yd[0]) / binH); }
    strays.forEach(function (r) {
        r.slice(1).forEach(function (v) { addCell(0, snapX(v), snapY(r[0]), 1); });
    });
    for (var j = 0; j < rows; j++) {
        var cy = yd[0] + (j + 0.5) * binH;
        var run = -1, start = 0;
        for (var i = 0; i <= cols; i++) {
            var cx = xd[0] + (i + 0.5) * binW, band = -1;
            if (i < cols) {
                for (var k = polys.length - 1; k >= 0; k--) {
                    if (d3.polygonContains(polys[k], [cx, cy])) { band = k; break; }
                }
            }
            if (band !== run) {
                if (run >= 0) addCell(run, start, j, i - start);
                run = band; start = i;
            }
        }
    }
    spots.forEach(function (r) {
        r.slice(2).forEach(function (v) { addCell(r[0], snapX(v), snapY(r[1]), 1); });
    });
    g.append("g").attr("shape-rendering", "crispEdges").selectAll("rect").data(cells).enter().append("rect")
        .attr("x", function (d) { return x(d.x0); })
        .attr("y", function (d) { return y(d.y1); })
        .attr("width", function (d) { return x(d.x1) - x(d.x0); })
        .attr("height", function (d) { return y(d.y0) - y(d.y1); })
        .attr("fill", function (d) { return bandColors[d.band]; });
}

// sparse panels: cells straight from the text rows
function drawRows(g, x, y, rowList, xStart, yStart, binW, binH) {
    var cells = [];
    rowList.forEach(function (s, r) {
        s.split("").forEach(function (c, i) {
            if (c !== ".") cells.push({ band: parseInt(c, 36), x0: xStart + i * binW, yTop: yStart - r * binH });
        });
    });
    g.append("g").attr("shape-rendering", "crispEdges").selectAll("rect").data(cells).enter().append("rect")
        .attr("x", function (d) { return x(d.x0); })
        .attr("y", function (d) { return y(d.yTop); })
        .attr("width", function (d) { return x(d.x0 + binW) - x(d.x0); })
        .attr("height", function (d) { return y(d.yTop - binH) - y(d.yTop); })
        .attr("fill", function (d) { return bandColors[d.band]; });
}

// projection: yellow histogram with navy outline and red fit
function drawProjection(g, x, y, binX, binY) {
    var pts = binX.map(function (v, i) { return [v, binY[i]]; });
    g.append("path").datum(pts).attr("fill", "#ffff00").attr("stroke", "none")
        .attr("d", d3.area().curve(d3.curveStepAfter).x(function (d) { return x(d[0]); }).y0(y(0)).y1(function (d) { return y(d[1]); }));
    g.append("path").datum(pts).attr("fill", "none").attr("stroke", "#000090").attr("stroke-width", 1.4)
        .attr("d", d3.line().curve(d3.curveStepAfter).x(function (d) { return x(d[0]); }).y(function (d) { return y(d[1]); }));
}
function drawFit(g, x, y, fitX, fitY) {
    var pts = fitX.map(function (v, i) { return [v, fitY[i]]; });
    g.append("path").datum(pts).attr("fill", "none").attr("stroke", "#ff0000").attr("stroke-width", 2.6)
        .attr("d", d3.line().curve(d3.curveMonotoneX).x(function (d) { return x(d[0]); }).y(function (d) { return y(d[1]); }));
}
function sigmaLabel(g, x, y, value) {
    var t = g.append("text").attr("x", x).attr("y", y).attr("font-size", 24).attr("font-weight", "bold").style("fill", "#f00a0a");
    t.append("tspan").text("σ");
    t.append("tspan").attr("font-size", 17).attr("dy", 7).text("t");
    t.append("tspan").attr("dy", -7).text(" = " + value);
}

var ticksX01 = d3.range(68, 94).map(function (d) { return d / 10; });
var ticks02 = d3.range(-5, 51).map(function (d) { return d / 20; });
var ticksProjMinor = d3.range(-25, 26).map(function (d) { return d / 25; });
var ticksPixMinor = d3.range(90, 121).map(function (d) { return d / 10; });

var g = svg.append("g");

// --- top left
var x1 = d3.scaleLinear().domain([6.787, 9.316]).range([91.3, 560.6]);
var y1 = d3.scaleLinear().domain([0.699, 2.503]).range([445, 65.7]);
drawContours(g, x1, y1, p1Edge, p1Levels, p1Strays, p1Spots, 0.014, 0.0135);
addGrid(g, x1, y1, xTicksTot, yTicksP1);
addAxes(g, x1, y1, xTicksTot, yTicksP1, ticksX01.filter(function (d) { return d > 6.79 && d < 9.31; }), ticks02.filter(function (d) { return d > 0.7 && d < 2.5; }));
addPalette(g, 562, 589, 64.3, 443.3, 1853, zTicksP1);
addStats(g, { x0: 396.5, x1: 556.4, y0: 69.7, y1: 158.7, line: 98.7, hx: 476, hy: 92.7, hsize: 24, hw: 79, left: 404, right: 547, ys: [121.7, 150.7], size: 21.5 },
    "timediff", [["RMS x", "0.4153"], ["RMS y", "0.1273"]]);
putText(g, "timediff MCP-Out uncorrected", 147, 44, 24.5, 336);
putText(g, "sum of ToT(MCP1+MCP2)", 225, 486, 15, 200);
putTextUp(g, "timedifference [ns]", 55.5, 315, 14, 121);

// --- top middle
var x2 = d3.scaleLinear().domain([6.787, 9.316]).range([739.5, 1218.5]);
var y2 = d3.scaleLinear().domain([-0.6545, 0.7235]).range([445, 65.7]);
drawContours(g, x2, y2, p2Edge, p2Levels, p2Strays, p2Spots, 0.014, 0.0103);
addGrid(g, x2, y2, xTicksTot, yTicksP2);
addAxes(g, x2, y2, xTicksTot, yTicksP2, ticksX01.filter(function (d) { return d > 6.79 && d < 9.31; }), ticks02.filter(function (d) { return d > -0.65 && d < 0.72; }));
addPalette(g, 1218.5, 1246.3, 64.3, 443.3, 1666, zTicksP2);
addStats(g, { x0: 1059, x1: 1213, y0: 68.7, y1: 164.7, line: 99.3, hx: 1135.6, hy: 90.7, hsize: 24, hw: 122, left: 1066, right: 1205, ys: [123.3, 155], size: 19 },
    "timediff_fit", [["RMS x", "0.4079"], ["RMS y", "0.09229"]]);
putText(g, "timediff MCP-Out walkcorrected", 827.5, 47.3, 24.5, 357.5);
putText(g, "sum of ToT(MCP1+MCP2)", 878, 486, 15, 201);
putTextUp(g, "corrected timedifference [ns]", 703.3, 348, 14, 187);

// --- top right
var x3 = d3.scaleLinear().domain([-1, 1]).range([1390.8, 1872.4]);
var y3 = d3.scaleLinear().domain([0, 192.8]).range([442, 65]);
addGrid(g, x3, y3, xTicksProj, yTicksP3);
drawProjection(g, x3, y3, p3BinX, p3BinY);
addAxes(g, x3, y3, xTicksProj, yTicksP3, ticksProjMinor.map(function (d) { return d; }), d3.range(0, 193, 5));
drawFit(g, x3, y3, p3FitX, p3FitY);
sigmaLabel(g, 1445.5, 197, "85ps");
var mult = putText(g, "×10", 1390, 61.7, 12);
mult.append("tspan").attr("font-size", 8).attr("dy", -5).text("3");
addStats(g, { x0: 1764.7, x1: 1928.4, y0: 62.3, y1: 286.7, line: 99.7, hx: 1845, hy: 88.3, hsize: 21, hw: 150, left: 1771.7, right: 1919.8, ys: [124.3, 161.7, 199, 236.7, 273.3], size: 16 },
    "timediff_fit_py", [["Entries", "2957783"], ["RMS", "0.09231"], ["Constant", "1.812e+05"], ["Mean", "-0.00384"], ["Sigma", "0.08522"]]);
putText(g, "timediff MCP-Out walkcorr. projection y", 1452, 41.7, 24.5, 442);
putText(g, "corrected timedifference [ns]", 1538, 475, 14, 183);
putTextUp(g, "counts", 1351, 274, 14, 44);

// --- bottom left
var x4 = d3.scaleLinear().domain([9, 12.02]).range([91.2, 575.8]);
var y4 = d3.scaleLinear().domain([-0.5, 1.5]).range([946.7, 567.7]);
drawRows(g, x4, y4, p4Rows, 9.55, 0.88, 0.025, 0.02);
addGrid(g, x4, y4, xTicksPix, yTicksP4);
addAxes(g, x4, y4, xTicksPix, yTicksP4, ticksPixMinor, ticks02.filter(function (d) { return d > -0.5 && d < 1.5; }));
addPalette(g, 577.5, 605.2, 567.7, 946, 28, zTicksP4);
addStats(g, { x0: 414.6, x1: 569.9, y0: 570.3, y1: 649, line: 596.7, hx: 491, hy: 590.7, hsize: 21.5, hw: 69.4, left: 422, right: 561, ys: [617.3, 642.5], size: 20.5 },
    "timediff", [["RMS x", "0.2414"], ["RMS y", "0.1225"]]);
putText(g, "timediff MCP-Pixel uncorrected", 161, 545, 24.5, 333.5);
putText(g, "sum of ToT(Pix MCP1+Pix MCP2)", 223, 982.7, 14, 221);
putTextUp(g, "timedifference [ns]", 55.5, 817.3, 14, 122);

// --- bottom middle
var x5 = d3.scaleLinear().domain([9.018, 12.01]).range([740.8, 1226]);
var y5 = d3.scaleLinear().domain([-1, 1]).range([946.7, 567.7]);
drawRows(g, x5, y5, p5Rows, 9.55, 0.38, 0.025, 0.02);
addGrid(g, x5, y5, xTicksPix5, yTicksP5);
addAxes(g, x5, y5, xTicksPix5, yTicksP5, ticksPixMinor.filter(function (d) { return d > 9.02; }), d3.range(-20, 21).map(function (d) { return d / 20; }));
addPalette(g, 1229.9, 1257.2, 567.7, 946, 33, zTicksP5);
addStats(g, { x0: 1062.4, x1: 1223.6, y0: 572, y1: 662.7, line: 601.7, hx: 1142.5, hy: 591.7, hsize: 18, hw: 146, left: 1070.4, right: 1213.4, ys: [624, 655], size: 21.5 },
    "timediff_walkcorr", [["RMS x", "0.2329"], ["RMS y", "0.0941"]]);
putText(g, "timediff MCP-Pixel walkcorrected", 824, 547.3, 24.5, 354.5);
putText(g, "sum of ToT(Pix MCP1+Pix MCP2)", 872.5, 982.7, 14, 221);
putTextUp(g, "corrected timedifference [ns]", 703.3, 849.3, 14, 187);

// --- bottom right
var x6 = d3.scaleLinear().domain([-1, 1]).range([1390.8, 1874.9]);
var y6 = d3.scaleLinear().domain([0, 686]).range([943.7, 564.3]);
addGrid(g, x6, y6, xTicksProj, yTicksP6);
drawProjection(g, x6, y6, p6BinX, p6BinY);
addAxes(g, x6, y6, xTicksProj, yTicksP6, ticksProjMinor.map(function (d) { return d; }), d3.range(0, 681, 20));
drawFit(g, x6, y6, p6FitX, p6FitY);
sigmaLabel(g, 1449.6, 700, "87ps");
addStats(g, { x0: 1731.8, x1: 1921, y0: 559.3, y1: 865.7, line: 602.7, hx: 1826, hy: 586.7, hsize: 19, hw: 177, left: 1740, right: 1911, ys: [630.7, 674.7, 719, 763.3, 806, 850], size: 19.3 },
    "timediff_walkcorr_py", [["Entries", "6949"], ["Mean", "-0.01162"], ["RMS", "0.0941"], ["Constant", "628.1"], ["Mean", "-0.01268"], ["Sigma", "0.08655"]]);
putText(g, "timediff MCP-Pixel walkcorr. projection y", 1428, 543.3, 24.5, 434);
putText(g, "corrected timedifference [ns]", 1539, 977.3, 14, 184);
putTextUp(g, "counts", 1351, 774, 14, 44);
</script>
</body>
</html>
